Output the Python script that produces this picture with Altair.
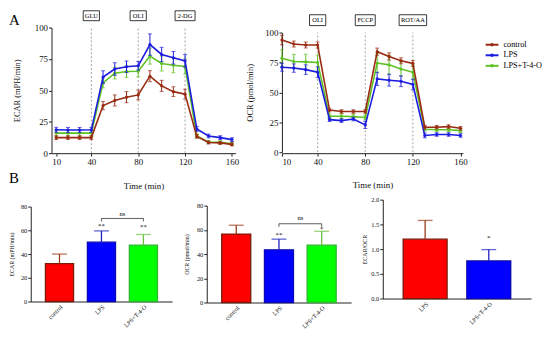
import altair as alt
import pandas as pd

SERIF = "Liberation Serif"

# ---------------- data ----------------
times = [10, 20, 30, 40, 50, 60, 70, 80, 90, 100, 110, 120, 130, 140, 150, 160]
groups = ["control", "LPS", "LPS+T-4-O"]
group_colors = ["#9a2b12", "#1c1ce0", "#5fc224"]
draw_order = ["LPS+T-4-O", "LPS", "control"]

ecar_control = [12.4, 12.4, 12.4, 12.4, 37.9, 42.0, 44.6, 46.4, 61.3, 53.6, 49.0, 47.0, 13.4, 8.5, 8.2, 7.0]
ecar_lps = [18.6, 18.5, 18.5, 18.6, 60.6, 67.0, 68.8, 69.6, 86.5, 78.6, 76.0, 73.5, 19.3, 13.7, 12.4, 10.8]
ecar_t4o = [16.0, 16.0, 16.0, 16.0, 56.0, 63.7, 65.0, 65.2, 77.3, 71.4, 70.0, 69.0, 13.8, 8.9, 8.6, 7.4]
ecar_control_err = [1.5, 1.5, 1.5, 1.5, 3.3, 4.4, 4.4, 3.9, 4.4, 4.4, 3.9, 3.9, 1.5, 1.2, 1.2, 1.2]
ecar_lps_err = [2.0, 2.0, 2.0, 2.0, 5.0, 5.0, 4.6, 3.5, 8.5, 5.7, 5.0, 5.0, 2.0, 1.5, 1.5, 1.5]
ecar_t4o_err = [2.5, 2.5, 2.5, 2.5, 4.0, 4.6, 4.6, 4.4, 6.4, 6.0, 6.0, 6.0, 1.5, 1.2, 1.2, 1.2]

ocr_control = [93.7, 90.4, 89.6, 89.6, 35.2, 34.0, 34.0, 34.0, 84.0, 80.0, 76.4, 74.2, 20.9, 20.9, 21.4, 20.0]
ocr_lps = [71.0, 70.3, 69.0, 66.8, 27.2, 26.4, 27.7, 22.8, 61.3, 60.2, 59.3, 56.6, 14.0, 14.8, 14.8, 14.0]
ocr_t4o = [78.6, 75.8, 75.5, 75.0, 30.0, 30.0, 29.7, 29.0, 74.5, 73.0, 69.5, 66.8, 19.2, 18.7, 18.7, 18.0]
ocr_control_err = [4.0, 2.5, 2.5, 2.5, 1.5, 1.5, 1.5, 1.5, 3.0, 3.0, 2.5, 2.5, 1.5, 1.5, 1.5, 1.5]
ocr_lps_err = [3.3, 3.5, 4.0, 4.5, 1.5, 1.5, 1.5, 3.0, 5.5, 5.0, 4.5, 4.5, 2.0, 1.5, 1.5, 1.5]
ocr_t4o_err = [7.0, 6.0, 6.3, 6.3, 2.0, 2.0, 2.0, 2.0, 8.0, 8.0, 6.0, 6.0, 1.5, 1.5, 1.5, 1.5]

inj_times = [40, 80, 120]
ecar_inj_labels = ["GLU", "OLI", "2-DG"]
ocr_inj_labels = ["OLI", "FCCP", "ROT/AA"]

bar_cats = ["control", "LPS", "LPS+T-4-O"]
ecar_bar = [32.0, 50.0, 47.5]
ecar_bar_err = [8.0, 9.5, 9.0]
ocr_bar = [56.5, 43.5, 47.3]
ocr_bar_err = [7.3, 8.8, 11.5]
ratio_cats = ["LPS", "LPS+T-4-O"]
ratio_bar = [1.2, 0.76]
ratio_bar_err = [0.38, 0.23]

bar_fill = {"control": "#ff0000", "LPS": "#0000ff", "LPS+T-4-O": "#00ff00"}
bar_stroke = {"control": "#7a1a08", "LPS": "#0a0ab0", "LPS+T-4-O": "#2fb52f"}
bar_err = {"control": "#9a3a1a", "LPS": "#2020c0", "LPS+T-4-O": "#6cc040"}

color_scale = alt.Scale(domain=groups, range=group_colors)

# panel geometry (pixels)
COL_W = [143, 146, 150]
ROW_H = [127, 103]


def series_df(vals, errs):
    rows = []
    for g in groups:
        for t, v, e in zip(times, vals[g], errs[g]):
            rows.append(dict(time=t, group=g, value=v, lo=v - e, hi=v + e))
    return pd.DataFrame(rows)


def line_panel(df, labels, ytitle, width, xrange, xdomain, yrange, box_y,
               ytitle_pad, xtitle_pad, letter=None):
    left = xrange[0]
    plot_w = xrange[1] - xrange[0]
    xsc = alt.Scale(domain=xdomain, range=xrange, nice=False, zero=False)
    ysc = alt.Scale(domain=[0, 100], range=yrange, nice=False)
    xax = alt.Axis(values=[10, 40, 80, 120, 160], title="Time (min)", labelFontSize=9,
                   titleFontSize=9, titlePadding=xtitle_pad, tickSize=3, labelPadding=1)
    yax = alt.Axis(values=[0, 25, 50, 75, 100], title=ytitle, labelFontSize=9, offset=-left,
                   titleFontSize=8.5, titlePadding=ytitle_pad, tickSize=3, labelPadding=1)
    col = alt.Color("group:N", scale=color_scale, legend=None)

    px = plot_w / (xdomain[1] - xdomain[0])
    inj = pd.DataFrame({"time": inj_times, "label": labels})
    inj["y0"] = 0
    inj["y1"] = 100
    half = (inj["label"].str.len() * 3.8 + 5) / 2 / px
    inj["bx0"] = inj["time"] - half
    inj["bx1"] = inj["time"] + half

    layers = [
        alt.Chart(inj).mark_rule(strokeDash=[2, 2], color="#8a8a8a", strokeWidth=0.8).encode(
            x=alt.X("time:Q", scale=xsc, axis=xax),
            y=alt.Y("y0:Q", scale=ysc, axis=yax), y2="y1:Q"),
        alt.Chart(inj).mark_rect(fill="white", stroke="#222", strokeWidth=0.9).encode(
            x=alt.X("bx0:Q", scale=xsc, axis=xax), x2="bx1:Q",
            y=alt.value(box_y[0]), y2=alt.value(box_y[1])),
        alt.Chart(inj).mark_text(fontSize=6.5, font=SERIF, baseline="middle").encode(
            x=alt.X("time:Q", scale=xsc, axis=xax),
            y=alt.value((box_y[0] + box_y[1]) / 2), text="label:N"),
    ]
    for g in draw_order:
        sub = df[df["group"] == g]
        b = alt.Chart(sub)
        layers += [
            b.mark_rule(strokeWidth=1).encode(
                x=alt.X("time:Q", scale=xsc, axis=xax),
                y=alt.Y("lo:Q", scale=ysc, axis=yax), y2="hi:Q", color=col),
            b.mark_tick(orient="horizontal", size=4, thickness=1).encode(
                x=alt.X("time:Q", scale=xsc, axis=xax),
                y=alt.Y("hi:Q", scale=ysc, axis=yax), color=col),
            b.mark_tick(orient="horizontal", size=4, thickness=1).encode(
                x=alt.X("time:Q", scale=xsc, axis=xax),
                y=alt.Y("lo:Q", scale=ysc, axis=yax), color=col),
            b.mark_line(strokeWidth=1.6).encode(
                x=alt.X("time:Q", scale=xsc, axis=xax),
                y=alt.Y("value:Q", scale=ysc, axis=yax), color=col),
            b.mark_point(filled=True, size=10, opacity=1).encode(
                x=alt.X("time:Q", scale=xsc, axis=xax),
                y=alt.Y("value:Q", scale=ysc, axis=yax), color=col),
        ]
    if letter is not None:
        layers.append(alt.Chart(pd.DataFrame({"t": [letter]})).mark_text(
            fontSize=15, font=SERIF, align="left", baseline="alphabetic").encode(
            x=alt.value(-22), y=alt.value(-3), text="t:N"))
    return alt.layer(*layers).properties(width=width, height=ROW_H[0])


def bar_panel(cats, vals, errs, fills, strokes, errcols, ytitle, ydomain, yvalues, yfmt,
              width, yrange, pads, ytitle_pad, stars, bracket=None, letter=None):
    df = pd.DataFrame({"cat": cats, "val": vals, "top": [v + e for v, e in zip(vals, errs)],
                       "fill": fills, "stroke": strokes, "ecol": errcols})
    xsc = alt.Scale(domain=cats, paddingInner=pads[0], paddingOuter=pads[1])
    ysc = alt.Scale(domain=ydomain, range=yrange, nice=False)
    xax = alt.Axis(title=None, labelAngle=-45, labelAlign="right", labelBaseline="top",
                   labelFontSize=6.2, ticks=False, labelPadding=2,
                   offset=yrange[0] - ROW_H[1])
    yax = alt.Axis(values=yvalues, format=yfmt, title=ytitle, labelFontSize=6.5, titleFontSize=6,
                   titlePadding=ytitle_pad, tickSize=3, labelPadding=1)
    X = alt.X("cat:N", scale=xsc, axis=xax, sort=cats)
    b = alt.Chart(df)
    layers = [
        b.mark_bar(strokeWidth=1.3).encode(
            x=X, y=alt.Y("val:Q", scale=ysc, axis=yax),
            fill=alt.Fill("fill:N", scale=None), stroke=alt.Stroke("stroke:N", scale=None)),
        b.mark_rule(strokeWidth=1.3).encode(
            x=X, y=alt.Y("val:Q", scale=ysc, axis=yax), y2="top:Q",
            color=alt.Color("ecol:N", scale=None)),
        b.mark_tick(orient="horizontal", size=15, thickness=1.3).encode(
            x=X, y=alt.Y("top:Q", scale=ysc, axis=yax), color=alt.Color("ecol:N", scale=None)),
    ]
    sdf = pd.DataFrame(stars, columns=["cat", "y", "txt"])
    layers.append(alt.Chart(sdf).mark_text(fontSize=7, font=SERIF, baseline="middle").encode(
        x=X, y=alt.Y("y:Q", scale=ysc, axis=yax), text="txt:N"))
    if bracket is not None:
        c1, c2, yb, leg, ylab, lab = bracket
        n = len(cats)
        step = width / (n - pads[0] + 2 * pads[1])
        bdf = pd.DataFrame({"c1": [c1], "c2": [c2], "yb": [yb], "ylab": [ylab], "lab": [lab]})
        ldf = pd.DataFrame({"cat": [c1, c2], "y0": [yb, yb], "y1": [yb - leg, yb - leg]})
        layers += [
            alt.Chart(bdf).mark_rule(color="#333", strokeWidth=0.8).encode(
                x=alt.X("c1:N", scale=xsc, axis=xax, sort=cats), x2="c2:N",
                y=alt.Y("yb:Q", scale=ysc, axis=yax)),
            alt.Chart(ldf).mark_rule(color="#333", strokeWidth=0.8).encode(
                x=X, y=alt.Y("y0:Q", scale=ysc, axis=yax), y2="y1:Q"),
            alt.Chart(bdf).mark_text(fontSize=6.5, font=SERIF, baseline="middle",
                                     dx=step / 2).encode(
                x=alt.X("c1:N", scale=xsc, axis=xax, sort=cats),
                y=alt.Y("ylab:Q", scale=ysc, axis=yax), text="lab:N"),
        ]
    if letter is not None:
        layers.append(alt.Chart(pd.DataFrame({"t": [letter]})).mark_text(
            fontSize=15, font=SERIF, align="left", baseline="alphabetic").encode(
            x=alt.value(-22), y=alt.value(-17), text="t:N"))
    return alt.layer(*layers).properties(width=width, height=ROW_H[1])


ecar_df = series_df({"control": ecar_control, "LPS": ecar_lps, "LPS+T-4-O": ecar_t4o},
                    {"control": ecar_control_err, "LPS": ecar_lps_err, "LPS+T-4-O": ecar_t4o_err})
ocr_df = series_df({"control": ocr_control, "LPS": ocr_lps, "LPS+T-4-O": ocr_t4o},
                   {"control": ocr_control_err, "LPS": ocr_lps_err, "LPS+T-4-O": ocr_t4o_err})

A1 = line_panel(ecar_df, ecar_inj_labels, "ECAR (mPH/min)", COL_W[0], [21, 207], [6, 163],
                [127, 0], (-17, -7), 13, 16, letter="A")
A2 = line_panel(ocr_df, ocr_inj_labels, "OCR (pmol/min)", COL_W[1], [76, 259], [10, 162],
                [126, 5], (-13, -2), 10, 15)

# legend panel (third column of the top row)
leg_df = pd.DataFrame({"group": groups})
leg_y = alt.Y("group:N", scale=alt.Scale(domain=groups, range=[12, 44]), axis=None)
leg_col = alt.Color("group:N", scale=color_scale, legend=None)
L = alt.layer(
    alt.Chart(leg_df).mark_rule(strokeWidth=2).encode(
        x=alt.value(104), x2=alt.value(117), y=leg_y, color=leg_col),
    alt.Chart(leg_df).mark_point(filled=True, size=12, opacity=1).encode(
        x=alt.value(110.5), y=leg_y, color=leg_col),
    alt.Chart(leg_df).mark_text(fontSize=8.3, font=SERIF, align="left", baseline="middle").encode(
        x=alt.value(122), y=leg_y, text="group:N"),
).properties(width=COL_W[2], height=ROW_H[0])

B1 = bar_panel(bar_cats, ecar_bar, ecar_bar_err,
               [bar_fill[c] for c in bar_cats], [bar_stroke[c] for c in bar_cats],
               [bar_err[c] for c in bar_cats],
               "ECAR (mPH/min)", [0, 80], [0, 20, 40, 60, 80], "d", COL_W[0], [103, 7],
               (0.33, 0.35), 6,
               [("LPS", 64, "**"), ("LPS+T-4-O", 63, "**")],
               ("LPS", "LPS+T-4-O", 70, 2.5, 73.5, "ns"), letter="B")
B2 = bar_panel(bar_cats, ocr_bar, ocr_bar_err,
               [bar_fill[c] for c in bar_cats], [bar_stroke[c] for c in bar_cats],
               [bar_err[c] for c in bar_cats],
               "OCR (pmol/min)", [0, 80], [0, 20, 40, 60, 80], "d", COL_W[1], [104, 6],
               (0.32, 0.35), 7,
               [("LPS", 55.5, "**"), ("LPS+T-4-O", 60.5, "*")],
               ("LPS", "LPS+T-4-O", 65, 2.5, 70, "ns"))
B3 = bar_panel(ratio_cats, ratio_bar, ratio_bar_err,
               ["#ff0000", "#0000ff"], ["#7a1a08", "#0a0ab0"], ["#9a3a1a", "#2020c0"],
               "ECAR/OCR", [0, 2], [0, 0.5, 1.0, 1.5, 2.0], ".1f", COL_W[2], [100, 0],
               (0.31, 0.32), 3,
               [("LPS+T-4-O", 1.22, "*")])

chart = alt.concat(A1, A2, L, B1, B2, B3, columns=3, bounds="flush", align="all",
                   spacing={"row": 47, "column": 28}).properties(
    padding={"left": 0, "top": 0, "right": 0, "bottom": 0}
).configure_view(stroke=None).configure_axis(
    grid=False, domainColor="#222", tickColor="#222", labelColor="#111", titleColor="#111",
    labelFont=SERIF, titleFont=SERIF, titleFontWeight="normal", domainWidth=1, tickWidth=1
).configure_text(font=SERIF)

chart.save("out.html", embed_options={"renderer": "svg", "actions": False})
